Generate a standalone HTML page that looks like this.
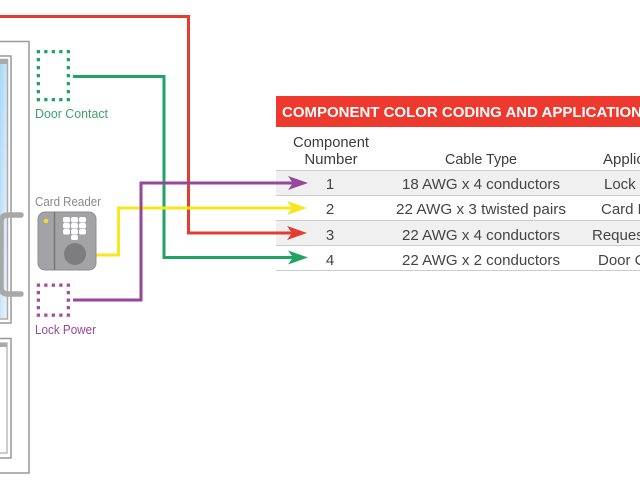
<!DOCTYPE html>
<html><head><meta charset="utf-8"><style>
html,body{margin:0;padding:0;background:#fff}
svg{display:block;filter:blur(0.35px)}
text{font-family:"Liberation Sans",sans-serif}
</style></head><body>
<svg width="640" height="480" viewBox="0 0 640 480" xmlns="http://www.w3.org/2000/svg">
<defs><linearGradient id="g" x1="0" y1="0" x2="1" y2="1"><stop offset="0" stop-color="#a6d6f6"/><stop offset="0.6" stop-color="#d2e9fa"/><stop offset="1" stop-color="#ecf5fb"/></linearGradient></defs>
<!-- door -->
<path d="M0 41.500H29V473H0" fill="none" stroke="#999" stroke-width="1.500"/>
<path d="M0 56H11V323H0" fill="none" stroke="#999" stroke-width="1.500"/>
<rect x="0" y="60" width="7" height="258" fill="url(#g)"/>
<path d="M0 59.500H7.500V319H0" fill="none" stroke="#aaa" stroke-width="1.500"/>
<rect x="0" y="60" width="7" height="4" fill="#aaa"/>
<path d="M0 338.500H11V458H0" fill="none" stroke="#999" stroke-width="1.500"/>
<path d="M0 343H7V453H0" fill="none" stroke="#bbb" stroke-width="1.500"/>
<rect x="0" y="343" width="7" height="4" fill="#aaa"/>
<!-- handle -->
<path d="M21 215H8Q1 215 1 222V287Q1 294 8 294H21" fill="none" stroke="#a8a8a8" stroke-width="5.500" stroke-linecap="round"/>
<!-- table -->
<rect x="276" y="96" width="364" height="31" fill="#ee3a2e"/>
<text x="282" y="117" font-size="14.500" font-weight="bold" fill="#fff" textLength="360" lengthAdjust="spacingAndGlyphs">COMPONENT COLOR CODING AND APPLICATION</text>
<g font-size="15" fill="#3c3c3c" text-anchor="middle">
<text x="331" y="147" textLength="76" lengthAdjust="spacingAndGlyphs">Component</text>
<text x="331" y="164">Number</text>
<text x="481" y="164" textLength="72" lengthAdjust="spacingAndGlyphs">Cable Type</text>
<text x="603" y="164" text-anchor="start">Applic</text>
</g>
<rect x="276" y="171" width="364" height="24.500" fill="#f0f0f0"/>
<rect x="276" y="221" width="364" height="24.500" fill="#f0f0f0"/>
<path d="M276 170.500H640M276 195.500H640M276 220.500H640M276 245.500H640M276 270.500H640" stroke="#ccc" stroke-width="1"/>
<g font-size="15" fill="#444" text-anchor="middle">
<text x="330" y="189">1</text><text x="481" y="189" textLength="158" lengthAdjust="spacingAndGlyphs">18 AWG x 4 conductors</text><text x="604" y="189" text-anchor="start">Lock P</text>
<text x="330" y="214">2</text><text x="481" y="214" textLength="170" lengthAdjust="spacingAndGlyphs">22 AWG x 3 twisted pairs</text><text x="601" y="214" text-anchor="start">Card R</text>
<text x="330" y="240">3</text><text x="481" y="240" textLength="158" lengthAdjust="spacingAndGlyphs">22 AWG x 4 conductors</text><text x="592" y="240" text-anchor="start">Request</text>
<text x="330" y="265">4</text><text x="481" y="265" textLength="158" lengthAdjust="spacingAndGlyphs">22 AWG x 2 conductors</text><text x="598" y="265" text-anchor="start">Door C</text>
</g>
<!-- wires -->
<path d="M0 16.500H188.500V233H296" fill="none" stroke="#e43d30" stroke-width="3"/>
<path d="M73 76.500H164V257.500H296" fill="none" stroke="#1fa463" stroke-width="3"/>
<path d="M96 255H118.500V208H296" fill="none" stroke="#f8e71c" stroke-width="3"/>
<path d="M73 300H141V183H296" fill="none" stroke="#94479b" stroke-width="3"/>
<!-- arrowheads -->
<path d="M288 176L308 183L288 190L293 183Z" fill="#94479b"/>
<path d="M287 201L307 208L287 215L292 208Z" fill="#f8e71c"/>
<path d="M287 226L307 233L287 240L292 233Z" fill="#e43d30"/>
<path d="M288 250.500L308 257.500L288 264.500L293 257.500Z" fill="#1fa463"/>
<!-- dotted sensors -->
<g fill="#1fa463">
<rect x="36.700" y="50" width="3.300" height="3.300"/><rect x="44.200" y="50" width="3.300" height="3.300"/><rect x="51.700" y="50" width="3.300" height="3.300"/><rect x="59.200" y="50" width="3.300" height="3.300"/><rect x="66.700" y="50" width="3.300" height="3.300"/>
<rect x="36.700" y="98" width="3.300" height="3.300"/><rect x="44.200" y="98" width="3.300" height="3.300"/><rect x="51.700" y="98" width="3.300" height="3.300"/><rect x="59.200" y="98" width="3.300" height="3.300"/><rect x="66.700" y="98" width="3.300" height="3.300"/>
<rect x="36.700" y="58" width="3.300" height="3.300"/><rect x="36.700" y="66" width="3.300" height="3.300"/><rect x="36.700" y="74" width="3.300" height="3.300"/><rect x="36.700" y="82" width="3.300" height="3.300"/><rect x="36.700" y="90" width="3.300" height="3.300"/>
<rect x="66.700" y="58" width="3.300" height="3.300"/><rect x="66.700" y="66" width="3.300" height="3.300"/><rect x="66.700" y="74" width="3.300" height="3.300"/><rect x="66.700" y="82" width="3.300" height="3.300"/><rect x="66.700" y="90" width="3.300" height="3.300"/>
</g>
<g fill="#a2519c">
<rect x="36.700" y="283.500" width="3.300" height="3.300"/><rect x="44.200" y="283.500" width="3.300" height="3.300"/><rect x="51.700" y="283.500" width="3.300" height="3.300"/><rect x="59.200" y="283.500" width="3.300" height="3.300"/><rect x="66.700" y="283.500" width="3.300" height="3.300"/>
<rect x="36.700" y="313.500" width="3.300" height="3.300"/><rect x="44.200" y="313.500" width="3.300" height="3.300"/><rect x="51.700" y="313.500" width="3.300" height="3.300"/><rect x="59.200" y="313.500" width="3.300" height="3.300"/><rect x="66.700" y="313.500" width="3.300" height="3.300"/>
<rect x="36.700" y="291" width="3.300" height="3.300"/><rect x="36.700" y="298.500" width="3.300" height="3.300"/><rect x="36.700" y="306" width="3.300" height="3.300"/>
<rect x="66.700" y="291" width="3.300" height="3.300"/><rect x="66.700" y="298.500" width="3.300" height="3.300"/><rect x="66.700" y="306" width="3.300" height="3.300"/>
</g>
<!-- labels -->
<text x="35" y="118" font-size="12.500" fill="#3fa06f" textLength="73" lengthAdjust="spacingAndGlyphs">Door Contact</text>
<text x="35" y="206" font-size="12.500" fill="#8a8a8a" textLength="66" lengthAdjust="spacingAndGlyphs">Card Reader</text>
<text x="35" y="334" font-size="12.500" fill="#94479b" textLength="61" lengthAdjust="spacingAndGlyphs">Lock Power</text>
<!-- reader -->
<rect x="38" y="212" width="58" height="58" rx="7" fill="#a3a3a6" stroke="#8e8e90" stroke-width="1"/>
<path d="M54.500 212V270" stroke="#77777a" stroke-width="1.500"/>
<circle cx="46" cy="221" r="2.300" fill="#f4dc2c"/>
<g fill="#fff">
<rect x="63" y="217" width="7" height="5.500" rx="2"/><rect x="71" y="217" width="7" height="5.500" rx="2"/><rect x="79" y="217" width="7" height="5.500" rx="2"/>
<rect x="63" y="223" width="7" height="5.500" rx="2"/><rect x="71" y="223" width="7" height="5.500" rx="2"/><rect x="79" y="223" width="7" height="5.500" rx="2"/>
<rect x="63" y="229" width="7" height="5.500" rx="2"/><rect x="71" y="229" width="7" height="5.500" rx="2"/><rect x="79" y="229" width="7" height="5.500" rx="2"/>
<rect x="71" y="235" width="7" height="5" rx="2"/>
</g>
<circle cx="75" cy="254" r="11" fill="#7d7d80"/>
</svg>
</body></html>
